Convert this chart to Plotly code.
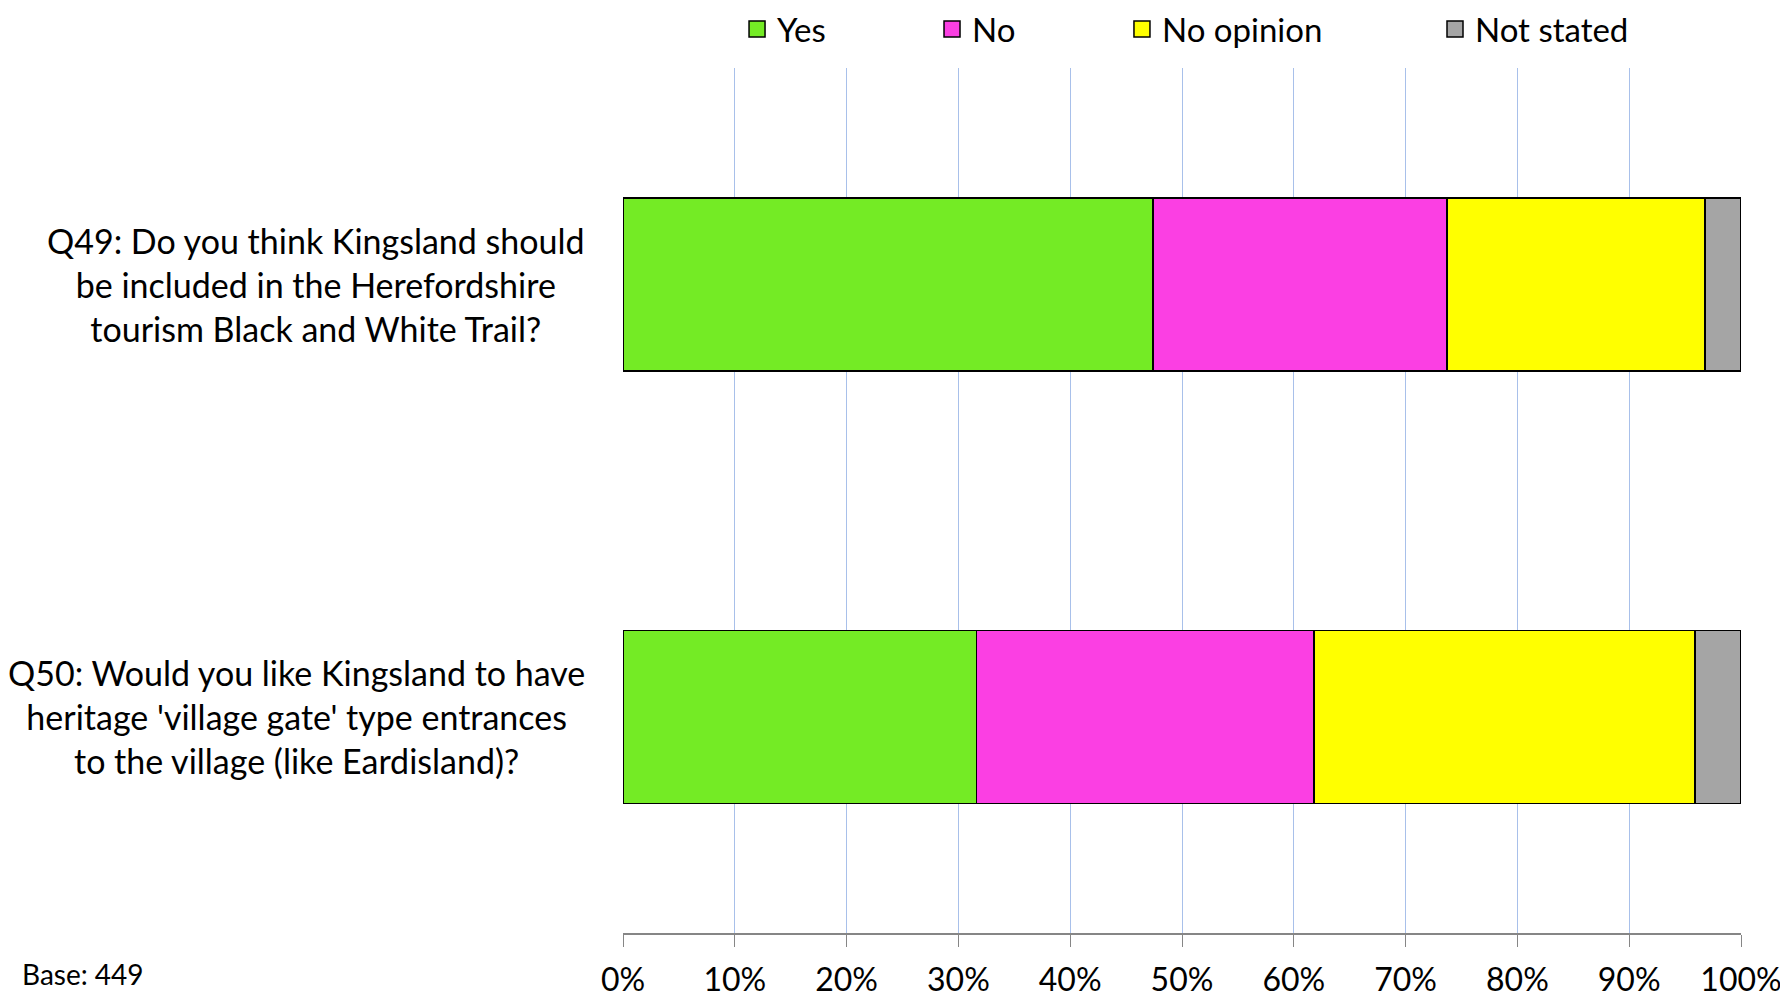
import plotly.graph_objects as go

categories = ["Q49", "Q50"]
category_labels = [
    "Q49: Do you think Kingsland should<br>be included in the Herefordshire<br>tourism Black and White Trail?",
    "Q50: Would you like Kingsland to have<br>heritage 'village gate' type entrances<br>to the village (like Eardisland)?",
]
series_names = ["Yes", "No", "No opinion", "Not stated"]
yes_vals = [47.4, 31.6]
no_vals = [26.3, 30.2]
noop_vals = [23.1, 34.1]
notstated_vals = [3.2, 4.1]
colors = ["#74EB25", "#FB3FE3", "#FFFF00", "#A5A5A5"]
tick_vals = [0, 10, 20, 30, 40, 50, 60, 70, 80, 90, 100]
tick_text = [f"{v}%" for v in tick_vals]
base_text = "Base: 449"

FONT = "Lato"
values = [yes_vals, no_vals, noop_vals, notstated_vals]
legend_ids = ["legend", "legend2", "legend3", "legend4"]
legend_x = [0.102, 0.2764, 0.4463, 0.7263]

fig = go.Figure()
for name, vals, col in zip(series_names, values, colors):
    fig.add_trace(go.Bar(
        y=categories, x=vals, name=name, orientation="h",
        marker=dict(color=col, line=dict(color="black", width=1.5)),
        width=0.4, showlegend=False,
    ))
# legend keys (square swatches with black border)
for name, col, lid in zip(series_names, colors, legend_ids):
    fig.add_trace(go.Scatter(
        x=[None], y=[None], mode="markers", name=name, legend=lid,
        marker=dict(symbol="square", size=16, color=col,
                    line=dict(color="black", width=1.5)),
        showlegend=True, hoverinfo="skip",
    ))

layout_legends = {}
for lid, lx in zip(legend_ids, legend_x):
    layout_legends[lid] = dict(
        x=lx, xanchor="left", y=1.0451, yanchor="middle", orientation="h",
        font=dict(family=FONT, size=33, color="black"),
        bgcolor="rgba(0,0,0,0)", itemwidth=30, itemsizing="trace",
    )

annotations = []
for cat, lab in zip(categories, category_labels):
    annotations.append(dict(
        x=0, xref="paper", y=cat, yref="y", text=lab, showarrow=False,
        xanchor="right", yanchor="middle", align="center", xshift=-36,
        font=dict(family=FONT, size=34, color="black"),
    ))
annotations.append(dict(
    x=-0.539, xref="paper", y=-0.0474, yref="paper", text=base_text, showarrow=False,
    xanchor="left", yanchor="middle", font=dict(family=FONT, size=28, color="black"),
))

fig.update_layout(
    width=1780, height=989,
    margin=dict(l=615, r=47, t=60, b=64, autoexpand=False),
    barmode="stack",
    plot_bgcolor="white", paper_bgcolor="white",
    showlegend=True,
    annotations=annotations,
    **layout_legends,
)
fig.update_xaxes(
    range=[0, 100], tickvals=tick_vals, ticktext=tick_text,
    showgrid=True, gridcolor="#A8C0EA", gridwidth=1.2,
    showline=True, linecolor="#868686", linewidth=2,
    ticks="outside", ticklen=12, tickcolor="#868686", tickwidth=1,
    ticklabelstandoff=6,
    tickfont=dict(family=FONT, size=32, color="black"),
    zeroline=False,
)
fig.update_yaxes(
    range=[1.5, -0.5], showticklabels=False, showgrid=False, showline=False,
    zeroline=False,
)

fig.write_html("out.html")
